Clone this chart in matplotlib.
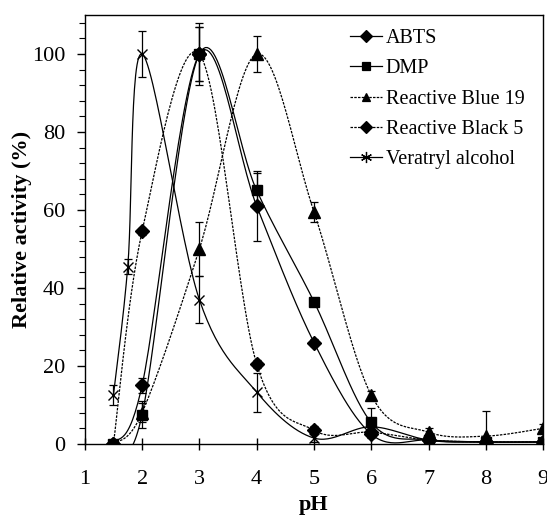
import numpy as np
import matplotlib
matplotlib.use('Agg')
import matplotlib.pyplot as plt
from matplotlib.lines import Line2D
from matplotlib.ticker import MultipleLocator

plt.rcParams['font.family'] = ['Liberation Serif', 'DejaVu Serif']

ph = [1.5, 2, 3, 4, 5, 6, 7, 8, 9]
ph_va = [1.5, 1.75, 2, 3, 4, 5, 6, 7, 8, 9]

abts = [0, 15, 100, 61, 26, 2.5, 1, 0.5, 0.5]
abts_err = [1, 2, 7, 9, 1, 1, 0.5, 0.5, 0.5]
dmp = [0, 7.5, 100, 65, 36.5, 5.5, 1, 0.5, 0.5]
dmp_err = [1, 3.5, 8, 4.5, 1, 3.7, 0.5, 0.5, 0.5]
rb19 = [0, 8, 50, 100, 59.5, 12.5, 3, 2, 4]
rb19_err = [1, 2.5, 7, 4.5, 2.5, 1, 1, 6.5, 1]
rb5 = [0, 54.5, 100, 20.5, 3.5, 3, 1, 0.5, 0.5]
rb5_err = [1, 1, 7, 1, 1, 1, 0.5, 0.5, 0.5]
va = [12.5, 45.5, 100, 37, 13.3, 1.5, 4.4, 1, 0.5, 0.5]
va_err = [2.5, 2, 6, 6, 5, 1, 1, 0.5, 0.5, 0.5]

labels = ['ABTS', 'DMP', 'Reactive Blue 19', 'Reactive Black 5', 'Veratryl alcohol']


def smooth(x, y, n=30):
    """Excel style smoothed line (Catmull-Rom Bezier)."""
    x = np.asarray(x, float)
    y = np.asarray(y, float)
    p = np.column_stack([x, y])
    pts = [p[0]]
    t = np.linspace(0, 1, n)[1:, None]
    for i in range(len(p) - 1):
        p0 = p[max(i - 1, 0)]
        p1 = p[i]
        p2 = p[i + 1]
        p3 = p[min(i + 2, len(p) - 1)]
        c1 = p1 + (p2 - p0) / 6
        c2 = p2 - (p3 - p1) / 6
        seg = ((1 - t) ** 3) * p1 + 3 * ((1 - t) ** 2) * t * c1 \
            + 3 * (1 - t) * t ** 2 * c2 + t ** 3 * p2
        pts.extend(seg)
    pts = np.array(pts)
    return pts[:, 0], pts[:, 1]


fig = plt.figure(figsize=(5.47, 5.18), dpi=100)
ax = fig.add_axes([0.155, 0.143, 0.838, 0.828])

dotted = (0, (2, 1))
series = [
    (ph, abts, abts_err, 'D', '-', 7),
    (ph, dmp, dmp_err, 's', '-', 7),
    (ph, rb19, rb19_err, '^', dotted, 8),
    (ph, rb5, rb5_err, 'D', dotted, 7),
    (ph_va, va, va_err, 'x', '-', 7),
]

handles = []
for (x, y, e, m, ls, ms), lab in zip(series, labels):
    sx, sy = smooth(x, y)
    ax.plot(sx, sy, color='black', lw=0.9, ls=ls)
    ax.errorbar(x, y, yerr=e, fmt='none', ecolor='black', elinewidth=0.9,
                capsize=3, capthick=0.9)
    ax.plot(x, y, ls='none', marker=m, color='black', ms=ms, mew=1.0)
    hm = (6, 2, 0) if m == 'x' else m
    handles.append(Line2D([], [], color='black', lw=0.9, ls=ls, marker=hm,
                          ms=6 if m != 'x' else 8, mew=0.9, label=lab))

ax.set_xlim(1, 9)
ax.set_ylim(0, 110)
ax.xaxis.set_major_locator(MultipleLocator(1))
ax.yaxis.set_minor_locator(MultipleLocator(4))
ax.set_yticks([0, 20, 40, 60, 80, 100])
ax.tick_params(axis='y', which='major', direction='out', length=6, width=1,
               labelsize=16, pad=8, right=False)
ax.tick_params(axis='y', which='minor', direction='out', length=4, width=0.8)
ax.tick_params(axis='x', which='major', direction='inout', length=8, width=1,
               labelsize=16, pad=15, top=False)
for s in ax.spines.values():
    s.set_linewidth(1)

ax.set_xlabel('pH', fontsize=16, fontweight='bold', labelpad=4)
ax.set_ylabel('Relative activity (%)', fontsize=16, fontweight='bold', labelpad=0)

ax.legend(handles=handles, loc='upper right', frameon=False, fontsize=14.5,
          handlelength=1.55, handletextpad=0.2, labelspacing=0.55,
          borderaxespad=0.3, bbox_to_anchor=(0.99, 1.0))

fig.savefig('out.png', dpi=100)
